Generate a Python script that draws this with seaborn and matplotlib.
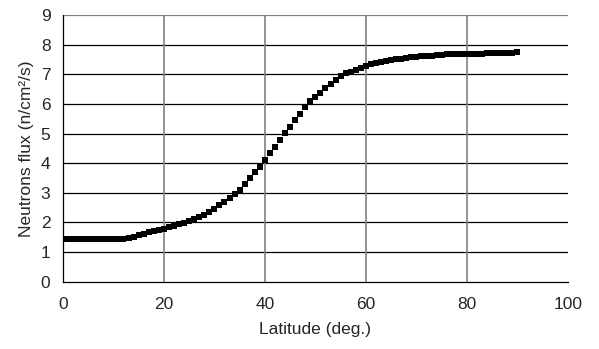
import numpy as np
import pandas as pd
import matplotlib
matplotlib.use("Agg")
import matplotlib.pyplot as plt
import seaborn as sns
from matplotlib.ticker import MultipleLocator

latitude = list(range(0, 91))
flux = [1.43, 1.43, 1.43, 1.43, 1.43, 1.43, 1.43, 1.43, 1.43, 1.43,
        1.43, 1.43, 1.43, 1.46, 1.51, 1.56, 1.61, 1.66, 1.70, 1.74,
        1.78, 1.83, 1.88, 1.93, 1.98, 2.04, 2.10, 2.17, 2.25, 2.34,
        2.46, 2.58, 2.69, 2.81, 2.95, 3.10, 3.30, 3.50, 3.69, 3.88,
        4.10, 4.33, 4.54, 4.77, 5.01, 5.23, 5.45, 5.66, 5.88, 6.09,
        6.22, 6.38, 6.53, 6.68, 6.82, 6.95, 7.03, 7.09, 7.16, 7.22,
        7.28, 7.34, 7.39, 7.43, 7.46, 7.48, 7.51, 7.53, 7.55, 7.57,
        7.59, 7.60, 7.62, 7.63, 7.64, 7.66, 7.67, 7.67, 7.68, 7.68,
        7.69, 7.69, 7.70, 7.70, 7.71, 7.71, 7.72, 7.72, 7.73, 7.73,
        7.74]

df = pd.DataFrame({"Latitude": latitude, "Flux": flux})

sns.set_style("white")
plt.rcParams['font.family'] = ['Liberation Sans', 'DejaVu Sans']

fig = plt.figure(figsize=(5.99, 3.49), dpi=100)
ax = fig.add_axes([0.105, 0.193, 0.843, 0.764])

sns.scatterplot(data=df, x="Latitude", y="Flux", marker="s", s=18,
                color="black", linewidth=0, ax=ax, zorder=3)

ax.set_xlim(0, 100)
ax.set_ylim(0, 9)
ax.xaxis.set_major_locator(MultipleLocator(20))
ax.xaxis.set_minor_locator(MultipleLocator(4))
ax.yaxis.set_major_locator(MultipleLocator(1))

for y in range(1, 10):
    ax.axhline(y, color="black" if y < 9 else "#808080", lw=0.9, zorder=1)
for x in [20, 40, 60, 80]:
    ax.axvline(x, color="#808080", lw=1.2, zorder=1)

for s in ["top", "right"]:
    ax.spines[s].set_visible(False)
for s in ["left", "bottom"]:
    ax.spines[s].set_color("black")
    ax.spines[s].set_linewidth(0.9)

ax.tick_params(axis="both", which="major", direction="out", length=4,
               width=0.9, color="black", labelsize=12.5, pad=5)
ax.tick_params(axis="x", which="minor", direction="out", length=3,
               width=0.9, color="black")
ax.tick_params(axis="x", which="major", pad=7)

ax.set_xlabel("Latitude (deg.)", fontsize=12.5, labelpad=7)
ax.set_ylabel("Neutrons flux (n/cm²/s)", fontsize=12.5, labelpad=5)

fig.savefig("out.png", dpi=100)
